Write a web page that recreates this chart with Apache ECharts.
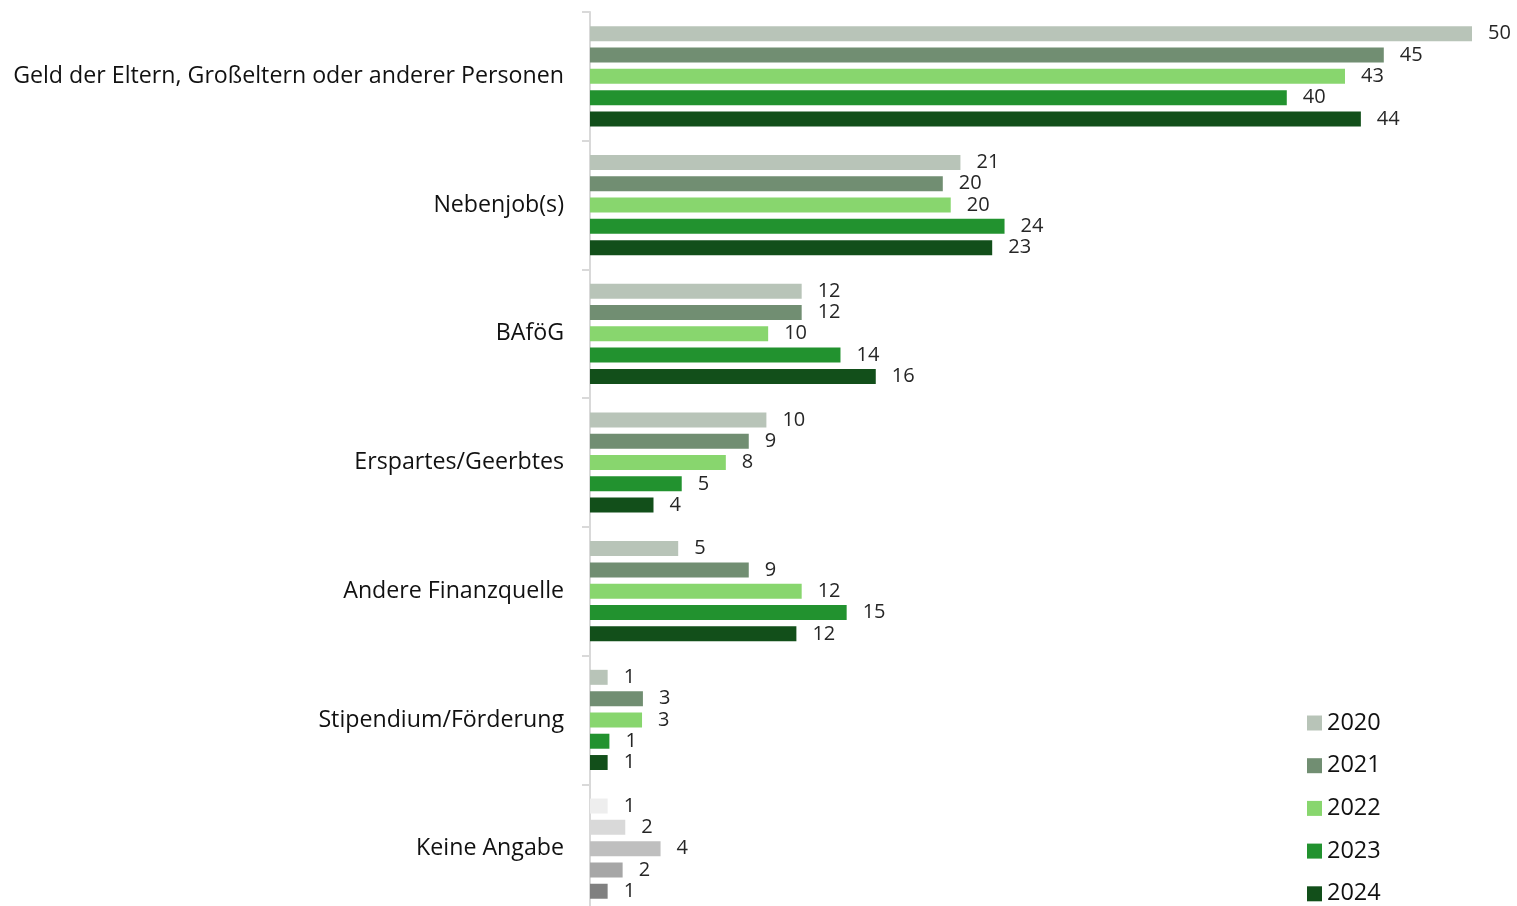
<!DOCTYPE html>
<html><head><meta charset="utf-8">
<script src="https://cdn.jsdelivr.net/npm/echarts@6/dist/echarts.min.js"></script>
<style>html,body{margin:0;padding:0;background:#fff;overflow:hidden}#c{width:1517px;height:930px}</style>
</head><body><div id="c"></div>
<script>
const categories = ["Geld der Eltern, Großeltern oder anderer Personen","Nebenjob(s)","BAföG","Erspartes/Geerbtes","Andere Finanzquelle","Stipendium/Förderung","Keine Angabe"];
const years = ["2020","2021","2022","2023","2024"];
const v2020 = [50.0,21.0,12.0,10.0,5.0,1.0,1.0];
const v2021 = [45.0,20.0,12.0,9.0,9.0,3.0,2.0];
const v2022 = [42.8,20.45,10.1,7.7,12.0,2.95,4.0];
const v2023 = [39.5,23.5,14.2,5.2,14.55,1.1,1.85];
const v2024 = [43.7,22.8,16.2,3.6,11.7,1.0,1.0];
const colors = ["#b8c4b8","#718e72","#88d66e","#22922f","#124f1a"];
const grayColors = ["#eeeeee","#d9d9d9","#bfbfbf","#a6a6a6","#808080"];
const allVals = [v2020,v2021,v2022,v2023,v2024];
const FONT = "Open Sans";
const chart = echarts.init(document.getElementById('c'));
const series = years.map((y,i)=>({
  name:y, type:'bar', barWidth:15, barGap:'42%',
  itemStyle:{color:colors[i]},
  data: allVals[i].map((v,j)=> j===categories.length-1 ? {value:v,itemStyle:{color:grayColors[i]}} : v),
  label:{show:true, position:'right', distance:16, color:'#262626', fontSize:20, fontFamily:FONT,
    formatter:p=>String(Math.round(p.value))},
  animation:false
}));
chart.setOption({
  animation:false,
  color:colors,
  grid:{left:590, top:12, width:882, height:901, containLabel:false},
  legend:{orient:'vertical', left:1302, top:706, itemWidth:15, itemHeight:15, itemGap:18.7,
    icon:'rect', textStyle:{fontSize:23.5, fontFamily:FONT, color:'#111'}, data:years},
  xAxis:{type:'value', min:0, max:50, show:false},
  yAxis:{type:'category', data:categories, inverse:true,
    axisLine:{show:true, lineStyle:{color:'#d9d9d9', width:2}},
    axisTick:{show:true, length:8, lineStyle:{color:'#d9d9d9', width:2}},
    axisLabel:{fontSize:23.2, fontFamily:FONT, color:'#111', margin:26}},
  series:series
});
</script></body></html>
